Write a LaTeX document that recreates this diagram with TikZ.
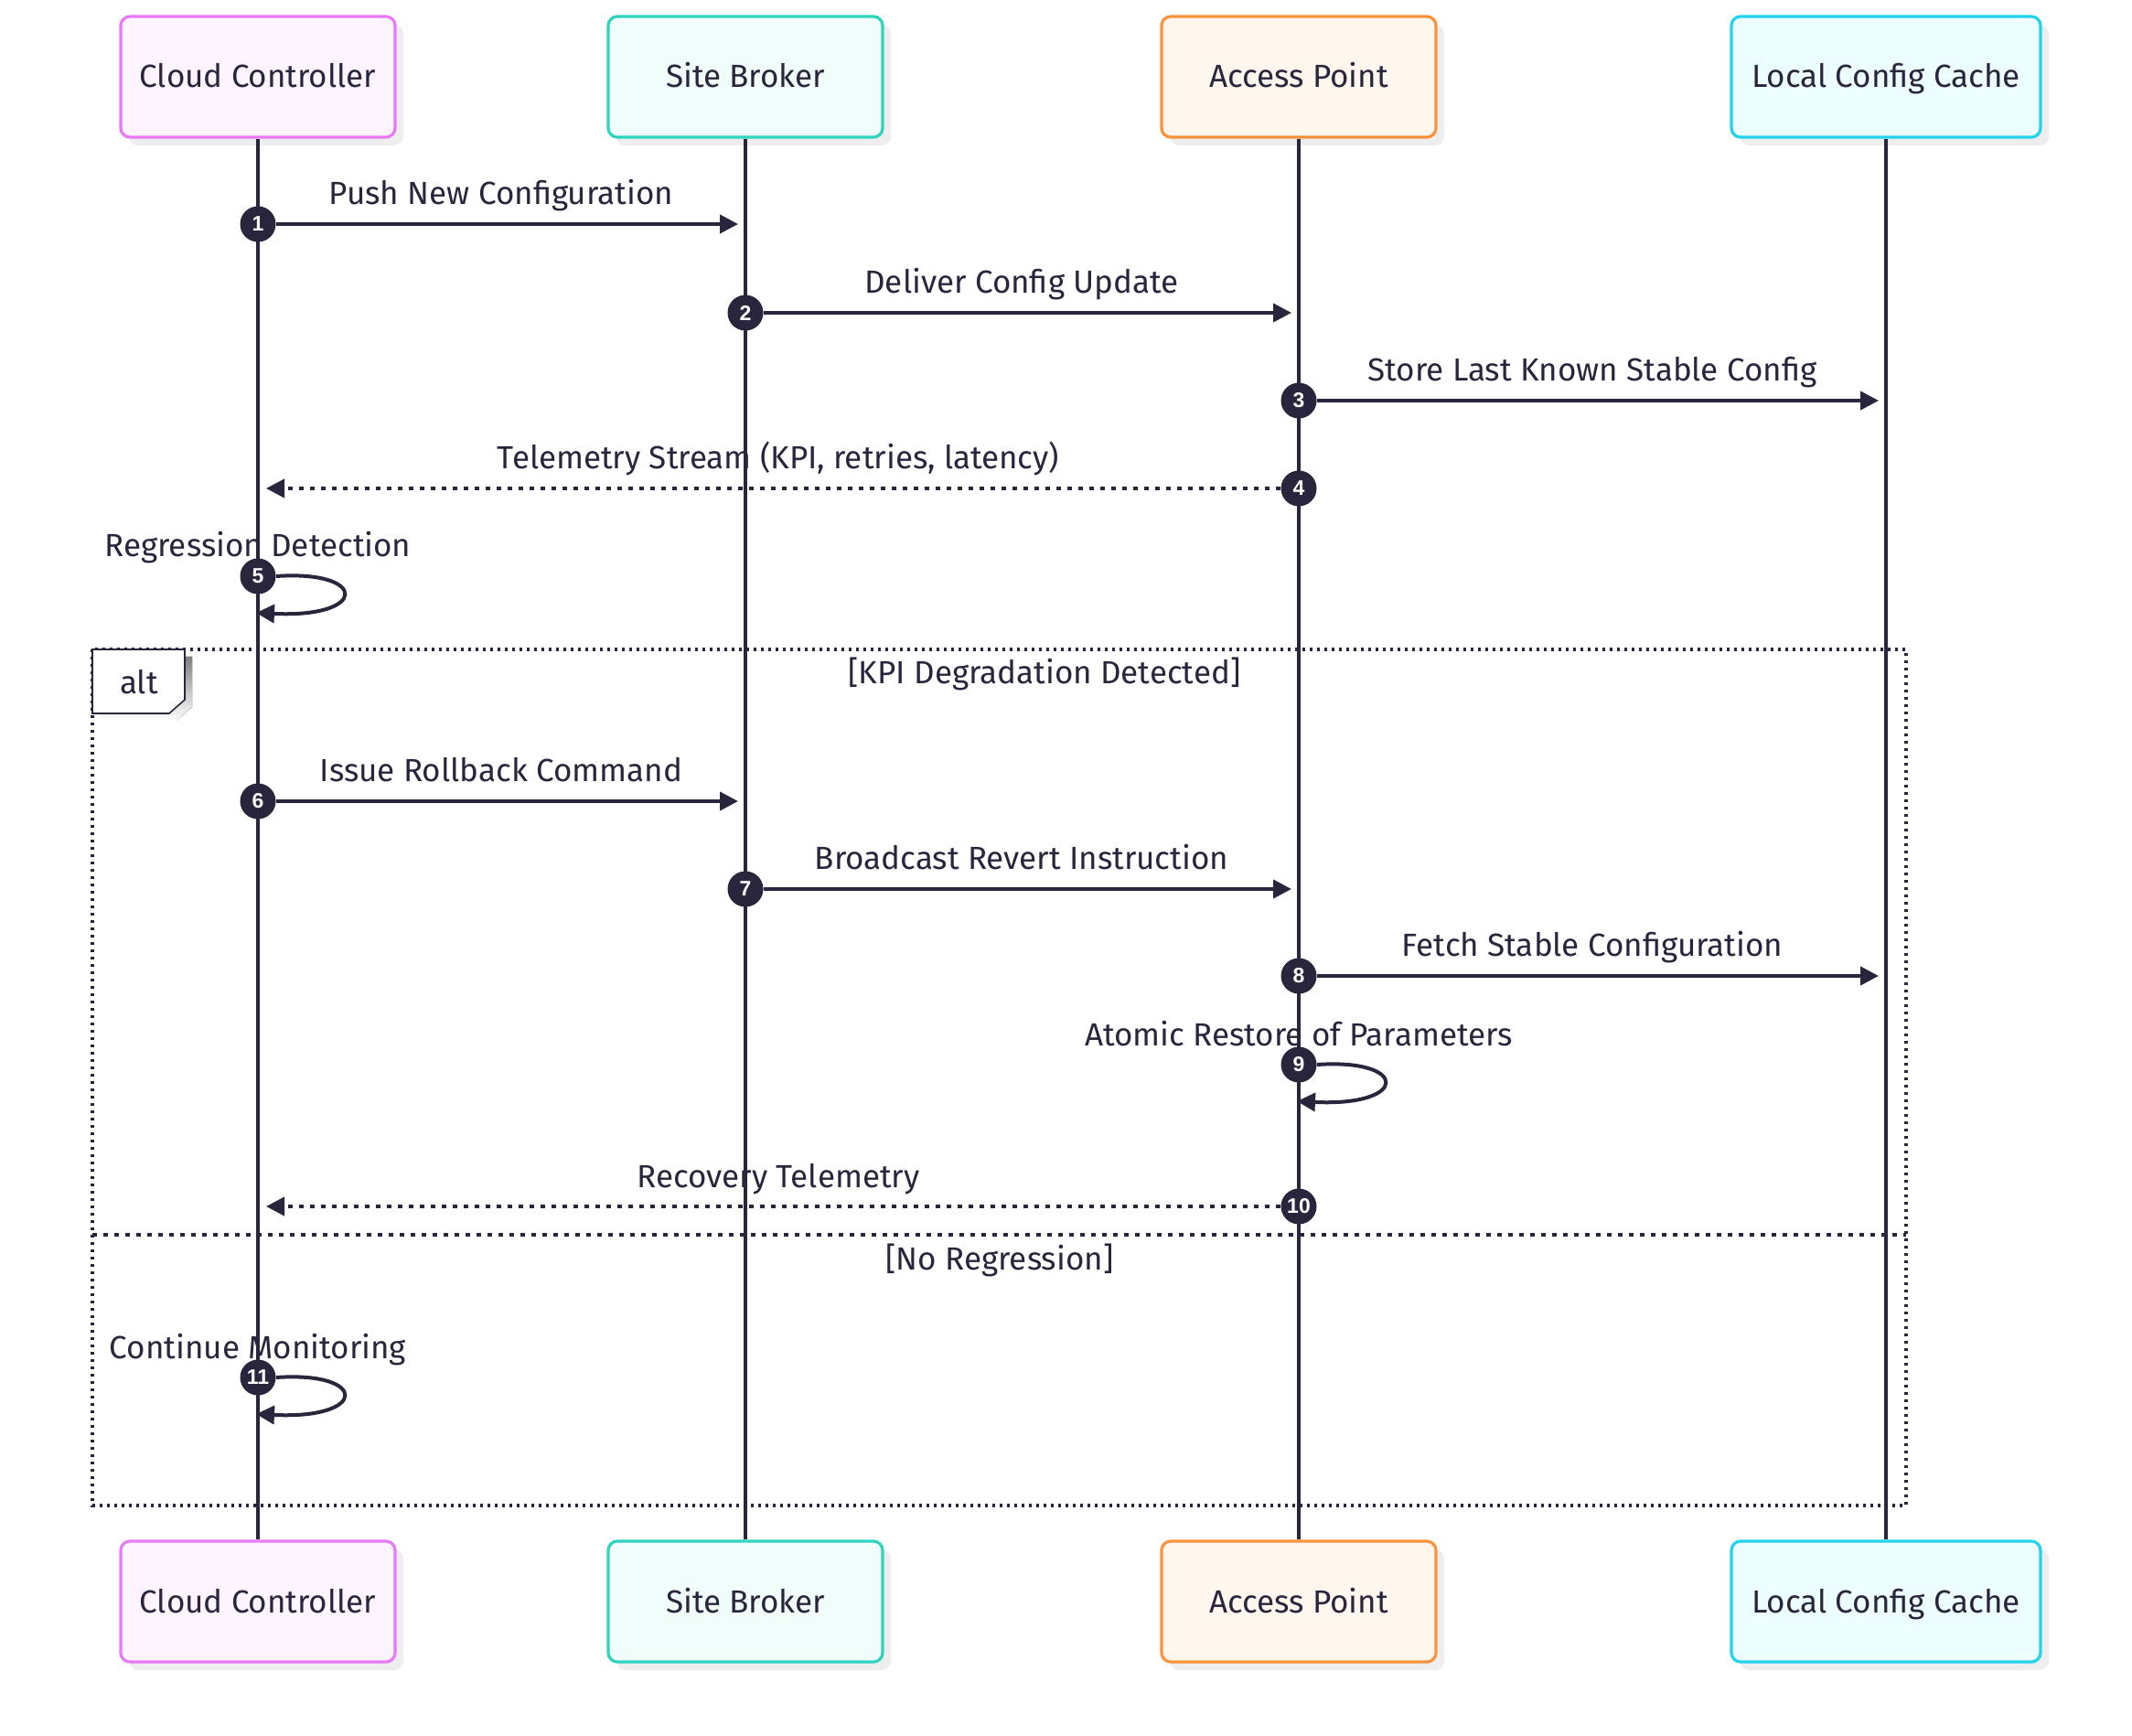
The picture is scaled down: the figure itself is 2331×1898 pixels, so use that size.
\documentclass[tikz,border=0pt]{standalone}
\usepackage{fontspec}
\setmainfont{Fira Sans}
\newfontfamily\numfont{Liberation Sans}
\usetikzlibrary{arrows.meta, shadows}

\definecolor{ink}{HTML}{28253D}
\definecolor{shade}{HTML}{EEEEEF}
\definecolor{ccline}{HTML}{E879F9}
\definecolor{ccfill}{HTML}{FDF4FF}
\definecolor{sbline}{HTML}{2DD4BF}
\definecolor{sbfill}{HTML}{F0FDFA}
\definecolor{apline}{HTML}{FB923C}
\definecolor{apfill}{HTML}{FFF7ED}
\definecolor{lcline}{HTML}{22D3EE}
\definecolor{lcfill}{HTML}{ECFEFF}

\begin{document}
\begin{tikzpicture}[x=0.5pt, y=-0.5pt,
  actor/.style 2 args={draw=#1, fill=#2, line width=1.6pt, rounded corners=5pt,
    minimum width=150pt, minimum height=66pt, text=ink,
    text height=12pt, text depth=0pt,
    font=\fontsize{17.5}{21}\selectfont,
    drop shadow={shadow xshift=4.5pt, shadow yshift=-4.5pt, fill=shade, opacity=1}},
  life/.style={draw=ink, line width=2pt},
  msg/.style={draw=ink, line width=2pt, -{Triangle[length=10pt, width=10pt]}},
  reply/.style={msg, dash pattern=on 2.5pt off 3.5pt},
  num/.style={circle, fill=ink, text=white, inner sep=0pt, minimum size=19.5pt,
    font=\numfont\bfseries\fontsize{11.5}{12}\selectfont},
  lbl/.style={anchor=base, text=ink, inner sep=0pt, font=\fontsize{17.5}{21}\selectfont},
  frame/.style={draw=ink, line width=1.65pt, dash pattern=on 1.65pt off 2.35pt},
  divider/.style={draw=ink, line width=1.8pt, dash pattern=on 2.25pt off 3.75pt},
  tag/.style={draw=ink, fill=white, line width=0.8pt}]

  \fill[white] (0,0) rectangle (2331,1898);
  \useasboundingbox (0,0) rectangle (2331,1898);

  % participants, top and bottom
  \node[actor={ccline}{ccfill}] (cc) at (282,84) {Cloud Controller};
  \node[actor={sbline}{sbfill}] (sb) at (815,84) {Site Broker};
  \node[actor={apline}{apfill}] (ap) at (1420,84) {Access Point};
  \node[actor={lcline}{lcfill}, minimum width=169pt] (lc) at (2062,84) {Local Config Cache};
  \node[actor={ccline}{ccfill}] (ccb) at (282,1751) {Cloud Controller};
  \node[actor={sbline}{sbfill}] (sbb) at (815,1751) {Site Broker};
  \node[actor={apline}{apfill}] (apb) at (1420,1751) {Access Point};
  \node[actor={lcline}{lcfill}, minimum width=169pt] (lcb) at (2062,1751) {Local Config Cache};

  % lifelines
  \draw[life] (cc) -- (ccb);
  \draw[life] (sb) -- (sbb);
  \draw[life] (ap) -- (apb);
  \draw[life] (lc) -- (lcb);

  % alt frame
  \draw[frame] (101,710) rectangle (2084,1646);
  \draw[divider] (101,1350) -- (2084,1350);
  \fill[shade] (109,718) -- (210,718) -- (210,773) -- (193,788) -- (109,788) -- cycle;
  \draw[tag] (101,710) -- (202,710) -- (202,765) -- (185,780) -- (101,780) -- cycle;
  \node[lbl] (alt) at (152,759) {alt};
  \node[lbl] (g1) at (1142,748) {[KPI Degradation Detected]};
  \node[lbl] (g2) at (1093,1388) {[No Regression]};

  % 1
  \node[num] (n1) at (282,245) {1};
  \coordinate (e1) at (807,245);
  \draw[msg] (n1) -- (e1);
  \node[lbl] (l1) at (548,224) {Push New Configuration};
  % 2
  \node[num] (n2) at (815,342) {2};
  \coordinate (e2) at (1412,342);
  \draw[msg] (n2) -- (e2);
  \node[lbl] (l2) at (1117,321) {Deliver Config Update};
  % 3
  \node[num] (n3) at (1420,438) {3};
  \coordinate (e3) at (2054,438);
  \draw[msg] (n3) -- (e3);
  \node[lbl] (l3) at (1741,417) {Store Last Known Stable Config};
  % 4
  \node[num] (n4) at (1420,534) {4};
  \coordinate (e4) at (291,534);
  \draw[reply] (n4) -- (e4);
  \node[lbl] (l4) at (851,513) {Telemetry Stream (KPI, retries, latency)};
  % 5
  \node[num] (n5) at (282,630) {5};
  \coordinate (e5) at (280,670);
  \draw[msg] (n5.east) .. controls (403,623) and (403,676) .. (e5);
  \node[lbl] (l5) at (282,609) {Regression Detection};
  % 6
  \node[num] (n6) at (282,876) {6};
  \coordinate (e6) at (807,876);
  \draw[msg] (n6) -- (e6);
  \node[lbl] (l6) at (548,855) {Issue Rollback Command};
  % 7
  \node[num] (n7) at (815,972) {7};
  \coordinate (e7) at (1412,972);
  \draw[msg] (n7) -- (e7);
  \node[lbl] (l7) at (1117,951) {Broadcast Revert Instruction};
  % 8
  \node[num] (n8) at (1420,1067) {8};
  \coordinate (e8) at (2054,1067);
  \draw[msg] (n8) -- (e8);
  \node[lbl] (l8) at (1741,1046) {Fetch Stable Configuration};
  % 9
  \node[num] (n9) at (1420,1164) {9};
  \coordinate (e9) at (1418,1204);
  \draw[msg] (n9.east) .. controls (1541,1157) and (1541,1210) .. (e9);
  \node[lbl] (l9) at (1420,1143) {Atomic Restore of Parameters};
  % 10
  \node[num] (n10) at (1420,1319) {10};
  \coordinate (e10) at (291,1319);
  \draw[reply] (n10) -- (e10);
  \node[lbl] (l10) at (851,1298) {Recovery Telemetry};
  % 11
  \node[num] (n11) at (282,1506) {11};
  \coordinate (e11) at (280,1546);
  \draw[msg] (n11.east) .. controls (403,1499) and (403,1552) .. (e11);
  \node[lbl] (l11) at (282,1485) {Continue Monitoring};
\end{tikzpicture}
\end{document}
